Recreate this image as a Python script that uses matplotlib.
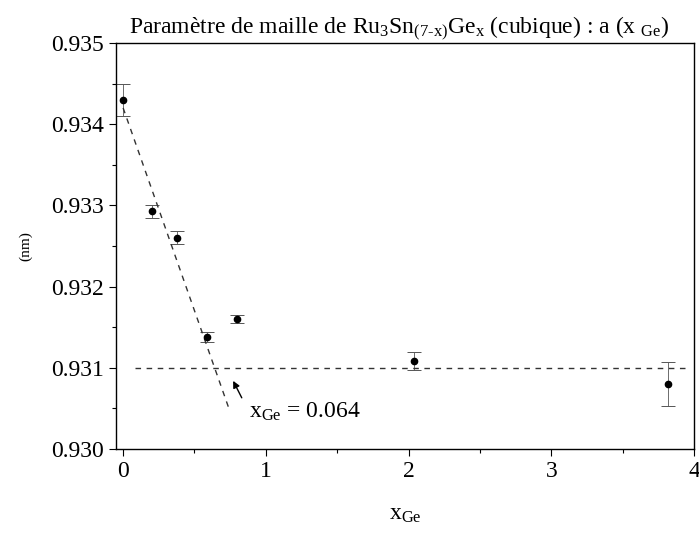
import matplotlib
matplotlib.use("Agg")
import matplotlib.pyplot as plt
from matplotlib.ticker import MultipleLocator, FormatStrFormatter

plt.rcParams['font.family'] = ['Liberation Serif', 'DejaVu Serif']
plt.rcParams['mathtext.fontset'] = 'custom'
plt.rcParams['mathtext.rm'] = 'Liberation Serif'
plt.rcParams['mathtext.it'] = 'Liberation Serif'

# Data
x_ge = [0.0, 0.20, 0.374, 0.586, 0.80, 2.04, 3.82]
a_nm = [0.93430, 0.93293, 0.93260, 0.93138, 0.93160, 0.93108, 0.93080]
a_err = [0.00020, 0.00008, 0.00008, 0.00006, 0.00005, 0.00011, 0.00027]
fit_x = [0.0, 0.743]
fit_y = [0.93420, 0.93049]
plateau_x = [0.08, 3.96]
plateau_y = [0.931, 0.931]
x_ticks = [0, 1, 2, 3, 4]
y_ticks = [0.930, 0.931, 0.932, 0.933, 0.934, 0.935]

fig = plt.figure(figsize=(6.99, 5.37), dpi=100)
ax = fig.add_axes([116/699, 1-449/537, (694-116)/699, (449-43)/537])

ax.errorbar(x_ge, a_nm, yerr=a_err, fmt='o', color='black', ms=4.5,
            ecolor='#555555', elinewidth=0.6, capsize=5, capthick=0.7)
ax.plot(fit_x, fit_y, color='#333333', lw=1.0, dashes=(4, 4))
ax.plot(plateau_x, plateau_y, color='#333333', lw=1.0, dashes=(4, 4))

ax.annotate('', xy=(0.762, 0.93087), xytext=(0.84, 0.93060),
            arrowprops=dict(arrowstyle='-|>', color='black', lw=1.0,
                            mutation_scale=10))
ax.text(0.88, 0.93046, r'x$_{\mathrm{Ge}}$ = 0.064', fontsize=17, va='center', ha='left')

ax.set_xlim(-0.05, 4.0)
ax.set_ylim(0.930, 0.935)
ax.set_xticks(x_ticks)
ax.set_yticks(y_ticks)
ax.yaxis.set_major_formatter(FormatStrFormatter('%.3f'))
ax.xaxis.set_minor_locator(MultipleLocator(0.5))
ax.yaxis.set_minor_locator(MultipleLocator(0.0005))
ax.tick_params(which='both', direction='out', top=False, right=False, labelsize=17)
ax.tick_params(which='major', length=5, width=0.8)
ax.tick_params(which='minor', length=3, width=0.8)
for s in ax.spines.values():
    s.set_linewidth(1.0)

ax.set_xlabel(r'x$_{\mathrm{Ge}}$', fontsize=17, labelpad=16)
ax.set_ylabel('(nm)', fontsize=11, labelpad=14)
ax.set_title(r'Paramètre de maille de Ru$_3$Sn$_{(7\text{-}x)}$Ge$_x$ (cubique) : a (x $_{\mathrm{Ge}}$)',
             fontsize=17, pad=4, x=0.49)

fig.savefig('out.png', dpi=100)
